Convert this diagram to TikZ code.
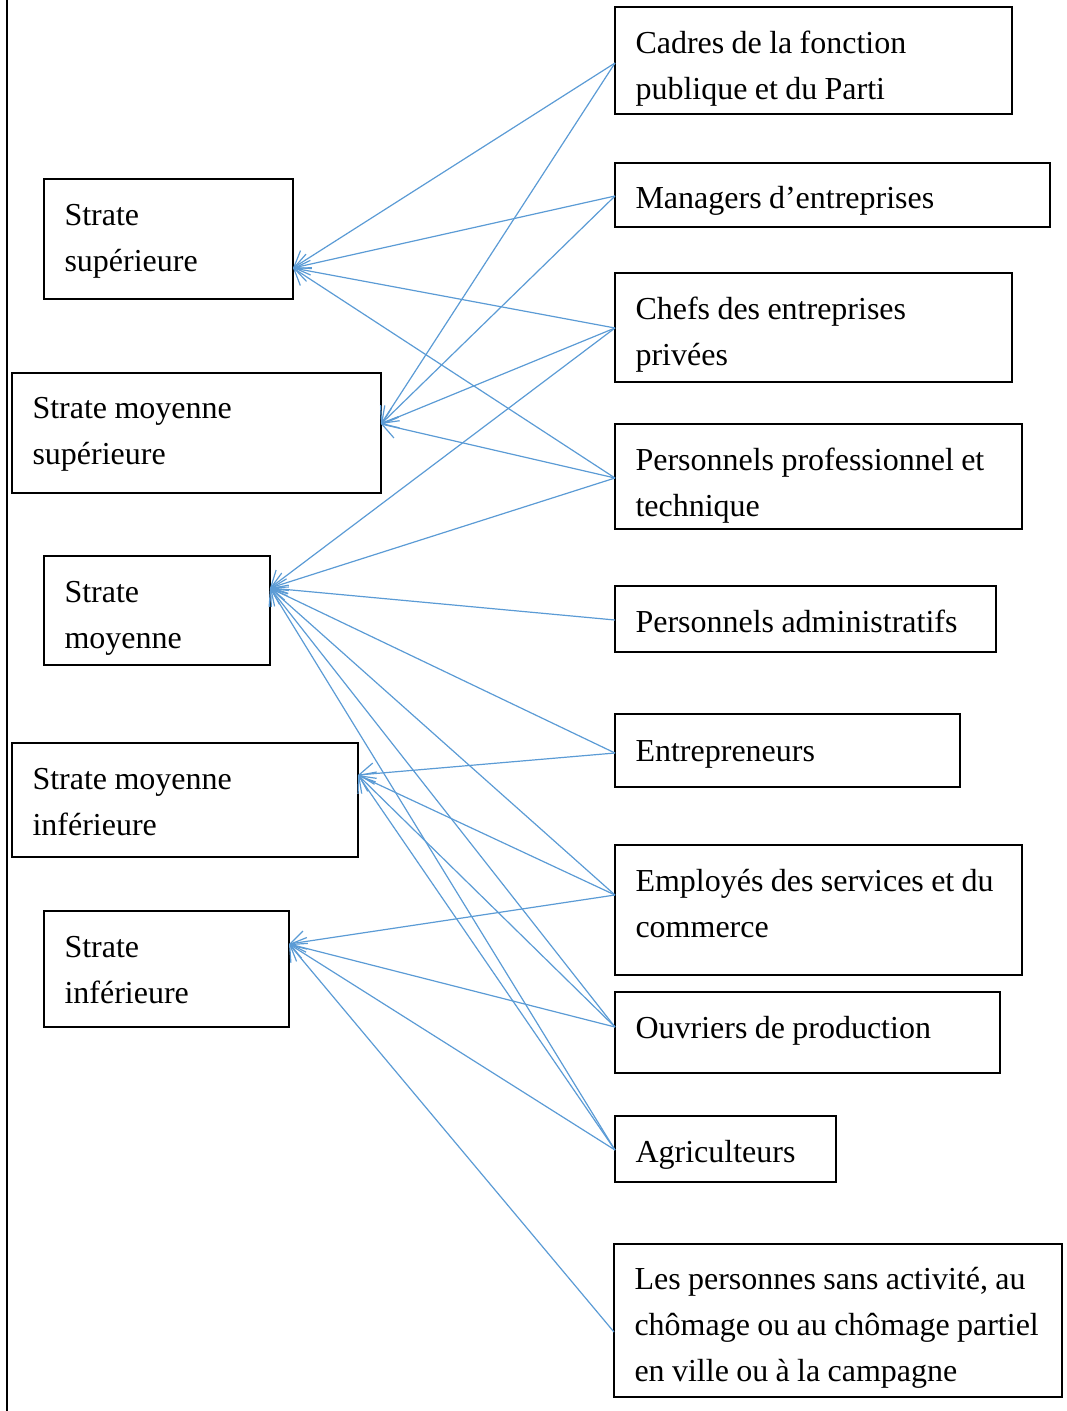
\documentclass[tikz,border=0pt]{standalone}
\usepackage{fontspec}
\setmainfont{Liberation Serif}
\usetikzlibrary{arrows.meta,fit}
\definecolor{connblue}{RGB}{91,155,213}
\newlength{\lblspace}
\begin{document}
\begin{tikzpicture}[x=0.375pt,y=-0.375pt,
  box/.style={draw=black,line width=0.6pt,inner sep=0pt,rectangle},
  lbl/.style={anchor=base west,inner sep=0pt,align=left,text width=190pt,
    font=\fontsize{12}{17.25}\selectfont,
    execute at begin node={\setlength{\lblspace}{2.75pt}\spaceskip=\lblspace\relax}},
  conn/.style={draw=connblue,line width=0.45pt,
    -{Straight Barb[length=5.5pt,width=8pt,line width=0.45pt]}},
  rule/.style={draw=black,line width=0.8pt}]
\useasboundingbox (0,0) rectangle (1067,1411);
% left rule
\coordinate (rtop) at (7,0);
\coordinate (rbot) at (7,1411);
\draw[rule] (rtop) -- (rbot);

% left boxes
\node[box,fit={(44,179) (293,299)}] (ss) {};
\node[lbl] (ss-t) at (64,225) {Strate\\supérieure};
\node[box,fit={(12,373) (381,493)}] (sms) {};
\node[lbl] (sms-t) at (32,418) {Strate moyenne\\supérieure};
\node[box,fit={(44,556) (270,665)}] (sm) {};
\node[lbl] (sm-t) at (64,602) {Strate\\moyenne};
\node[box,fit={(12,743) (358,857)}] (smi) {};
\node[lbl] (smi-t) at (32,789) {Strate moyenne\\inférieure};
\node[box,fit={(44,911) (289,1027)}] (si) {};
\node[lbl] (si-t) at (64,957) {Strate\\inférieure};

% right boxes
\node[box,fit={(615,7) (1012,114)}] (cad) {};
\node[lbl] (cad-t) at (635,53) {Cadres de la fonction\\publique et du Parti};
\node[box,fit={(615,163) (1050,227)}] (man) {};
\node[lbl] (man-t) at (635,208) {Managers d’entreprises};
\node[box,fit={(615,273) (1012,382)}] (che) {};
\node[lbl] (che-t) at (635,319) {Chefs des entreprises\\privées};
\node[box,fit={(615,424) (1022,529)}] (pro) {};
\node[lbl] (pro-t) at (635,470) {Personnels professionnel et\\technique};
\node[box,fit={(615,586) (996,652)}] (adm) {};
\node[lbl] (adm-t) at (635,632) {Personnels administratifs};
\node[box,fit={(615,714) (960,787)}] (ent) {};
\node[lbl] (ent-t) at (635,761) {Entrepreneurs};
\node[box,fit={(615,845) (1022,975)}] (emp) {};
\node[lbl] (emp-t) at (635,891) {Employés des services et du\\commerce};
\node[box,fit={(615,992) (1000,1073)}] (ouv) {};
\node[lbl] (ouv-t) at (635,1038) {Ouvriers de production};
\node[box,fit={(615,1116) (836,1182)}] (agr) {};
\node[lbl] (agr-t) at (635,1162) {Agriculteurs};
\node[box,fit={(614,1244) (1062,1397)}] (sans) {};
\node[lbl] (sans-t) at (634,1289) {Les personnes sans activité, au\\chômage ou au chômage partiel\\en ville ou à la campagne};

% attachment points
\coordinate (ss-in) at (293,268);
\coordinate (sms-in) at (381,424);
\coordinate (sm-in) at (270,588);
\coordinate (smi-in) at (358,775);
\coordinate (si-in) at (289,944);
\coordinate (cad-out) at (615,63);
\coordinate (man-out) at (615,196);
\coordinate (che-out) at (615,328);
\coordinate (pro-out) at (615,478);
\coordinate (adm-out) at (615,620);
\coordinate (ent-out) at (615,753);
\coordinate (emp-out) at (615,895);
\coordinate (ouv-out) at (615,1027);
\coordinate (agr-out) at (615,1150);
\coordinate (sans-out) at (614,1332);

% connectors
\draw[conn] (cad-out) -- (ss-in);
\draw[conn] (cad-out) -- (sms-in);
\draw[conn] (man-out) -- (ss-in);
\draw[conn] (man-out) -- (sms-in);
\draw[conn] (che-out) -- (ss-in);
\draw[conn] (che-out) -- (sms-in);
\draw[conn] (che-out) -- (sm-in);
\draw[conn] (pro-out) -- (ss-in);
\draw[conn] (pro-out) -- (sms-in);
\draw[conn] (pro-out) -- (sm-in);
\draw[conn] (adm-out) -- (sm-in);
\draw[conn] (ent-out) -- (sm-in);
\draw[conn] (ent-out) -- (smi-in);
\draw[conn] (emp-out) -- (sm-in);
\draw[conn] (emp-out) -- (smi-in);
\draw[conn] (emp-out) -- (si-in);
\draw[conn] (ouv-out) -- (sm-in);
\draw[conn] (ouv-out) -- (smi-in);
\draw[conn] (ouv-out) -- (si-in);
\draw[conn] (agr-out) -- (sm-in);
\draw[conn] (agr-out) -- (smi-in);
\draw[conn] (agr-out) -- (si-in);
\draw[conn] (sans-out) -- (si-in);
\end{tikzpicture}
\end{document}
